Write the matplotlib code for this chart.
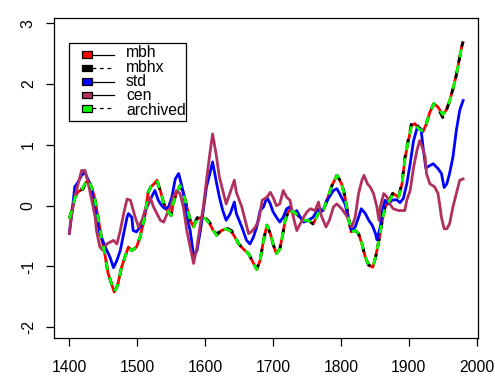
import matplotlib
matplotlib.use('Agg')
import matplotlib.pyplot as plt
from matplotlib.patches import Rectangle
from matplotlib.lines import Line2D

plt.rcParams['font.family'] = ['Liberation Sans', 'DejaVu Sans']

# ---------------- data ----------------
mbh_years = [1400, 1404, 1408, 1412, 1416, 1420, 1424, 1428, 1433, 1438, 1443, 1448, 1452,
             1457, 1462, 1466, 1471, 1477, 1482, 1487, 1492, 1499, 1504, 1511, 1516, 1520,
             1524, 1529, 1534, 1539, 1544, 1550, 1553, 1558, 1563, 1568, 1573, 1578, 1583,
             1588, 1594, 1600, 1607, 1612, 1617, 1624, 1631, 1639, 1644, 1649, 1656, 1664,
             1669, 1676, 1681, 1686, 1691, 1696, 1700, 1705, 1710, 1714, 1718, 1723, 1730,
             1737, 1745, 1752, 1759, 1764, 1769, 1774, 1781, 1786, 1794, 1801, 1806, 1811,
             1815, 1821, 1826, 1831, 1836, 1841, 1847, 1851, 1856, 1861, 1865, 1872, 1877,
             1885, 1890, 1894, 1899, 1904, 1909, 1914, 1921, 1926, 1931, 1937, 1943, 1950,
             1955, 1960, 1965, 1970, 1974, 1978, 1980]
mbh_vals = [-0.21, -0.06, 0.12, 0.22, 0.25, 0.30, 0.38, 0.42, 0.30, 0.09, -0.24, -0.57, -0.78,
            -1.11, -1.28, -1.42, -1.31, -1.01, -0.84, -0.68, -0.74, -0.68, -0.52, -0.19, 0.22, 0.31,
            0.35, 0.42, 0.25, 0.04, -0.08, -0.16, 0.04, 0.22, 0.33, 0.22, -0.02, -0.24, -0.35,
            -0.22, -0.19, -0.21, -0.30, -0.41, -0.49, -0.41, -0.38, -0.43, -0.52, -0.62, -0.71, -0.79,
            -0.90, -1.05, -0.90, -0.57, -0.32, -0.46, -0.63, -0.79, -0.71, -0.49, -0.24, -0.08, -0.10,
            -0.16, -0.24, -0.24, -0.30, -0.19, -0.05, -0.08, 0.14, 0.31, 0.50, 0.36, 0.14, -0.19,
            -0.43, -0.41, -0.46, -0.63, -0.85, -0.98, -1.01, -0.85, -0.57, -0.24, -0.02, 0.09, 0.20,
            0.14, 0.36, 0.75, 1.05, 1.32, 1.35, 1.27, 1.22, 1.35, 1.54, 1.68, 1.62, 1.50,
            1.57, 1.72, 1.92, 2.15, 2.39, 2.62, 2.70]
mbhx_vals = [-0.21, -0.06, 0.13, 0.24, 0.27, 0.27, 0.37, 0.42, 0.30, 0.09, -0.24, -0.57, -0.78,
             -1.11, -1.28, -1.42, -1.31, -1.01, -0.84, -0.68, -0.74, -0.68, -0.52, -0.19, 0.22, 0.31,
             0.35, 0.40, 0.25, 0.04, -0.08, -0.16, 0.04, 0.22, 0.33, 0.22, -0.02, -0.24, -0.33,
             -0.20, -0.17, -0.19, -0.28, -0.39, -0.47, -0.40, -0.36, -0.41, -0.50, -0.62, -0.71, -0.79,
             -0.90, -1.04, -0.90, -0.57, -0.32, -0.46, -0.63, -0.79, -0.71, -0.49, -0.24, -0.08, -0.10,
             -0.16, -0.24, -0.24, -0.30, -0.19, -0.05, -0.08, 0.14, 0.31, 0.50, 0.38, 0.16, -0.19,
             -0.43, -0.41, -0.46, -0.63, -0.85, -0.98, -1.01, -0.85, -0.57, -0.24, -0.02, 0.11, 0.22,
             0.16, 0.38, 0.78, 1.08, 1.36, 1.38, 1.30, 1.22, 1.35, 1.54, 1.68, 1.60, 1.45,
             1.55, 1.72, 1.92, 2.15, 2.39, 2.62, 2.70]
archived_vals = [-0.21, -0.06, 0.12, 0.20, 0.22, 0.30, 0.38, 0.43, 0.30, 0.09, -0.24, -0.57, -0.78,
                 -1.11, -1.28, -1.42, -1.31, -1.01, -0.84, -0.68, -0.74, -0.68, -0.52, -0.19, 0.22, 0.31,
                 0.35, 0.42, 0.25, 0.04, -0.08, -0.16, 0.04, 0.22, 0.33, 0.22, -0.02, -0.24, -0.35,
                 -0.22, -0.19, -0.21, -0.30, -0.41, -0.49, -0.41, -0.38, -0.43, -0.52, -0.62, -0.71, -0.79,
                 -0.90, -1.05, -0.90, -0.57, -0.32, -0.46, -0.63, -0.79, -0.71, -0.49, -0.24, -0.08, -0.10,
                 -0.16, -0.24, -0.24, -0.30, -0.19, -0.05, -0.08, 0.14, 0.31, 0.50, 0.36, 0.14, -0.19,
                 -0.43, -0.41, -0.46, -0.63, -0.85, -0.98, -1.01, -0.85, -0.57, -0.24, -0.02, 0.09, 0.20,
                 0.14, 0.36, 0.75, 1.05, 1.32, 1.35, 1.27, 1.22, 1.35, 1.54, 1.68, 1.62, 1.50,
                 1.57, 1.72, 1.92, 2.15, 2.39, 2.62, 2.70]

std_years = [1400, 1404, 1408, 1413, 1418, 1423, 1430, 1435, 1440, 1445, 1453, 1460, 1465,
             1470, 1475, 1480, 1485, 1487, 1492, 1494, 1499, 1507, 1512, 1521, 1526, 1531,
             1536, 1541, 1546, 1551, 1556, 1561, 1566, 1570, 1573, 1578, 1583, 1588, 1593,
             1597, 1602, 1607, 1611, 1616, 1621, 1626, 1631, 1637, 1643, 1646, 1654, 1661,
             1666, 1671, 1676, 1681, 1686, 1691, 1696, 1700, 1705, 1710, 1715, 1720, 1725,
             1730, 1735, 1740, 1745, 1752, 1759, 1766, 1771, 1776, 1781, 1789, 1794, 1798,
             1806, 1811, 1816, 1821, 1826, 1830, 1836, 1841, 1846, 1851, 1853, 1858, 1861,
             1865, 1870, 1875, 1882, 1887, 1892, 1897, 1902, 1907, 1912, 1918, 1921, 1925,
             1931, 1936, 1943, 1948, 1952, 1956, 1960, 1965, 1970, 1975, 1980]
std_vals = [-0.45, -0.10, 0.31, 0.39, 0.50, 0.55, 0.36, 0.14, -0.19, -0.46, -0.68, -0.85, -1.02,
            -0.90, -0.74, -0.46, -0.19, -0.13, -0.19, -0.41, -0.43, -0.30, -0.08, 0.14, 0.25, 0.09,
            0.00, -0.05, -0.02, 0.14, 0.44, 0.53, 0.31, 0.09, -0.19, -0.41, -0.82, -0.74, -0.41,
            -0.10, 0.31, 0.53, 0.72, 0.42, 0.14, -0.08, -0.24, -0.13, 0.06, -0.13, -0.35, -0.57,
            -0.63, -0.52, -0.35, -0.08, -0.02, 0.14, 0.03, -0.10, -0.19, -0.27, -0.19, -0.05, -0.02,
            -0.13, -0.08, -0.19, -0.27, -0.24, -0.19, -0.06, -0.10, -0.02, 0.11, 0.25, 0.28, 0.20,
            0.03, -0.21, -0.41, -0.35, -0.19, -0.05, -0.13, -0.24, -0.32, -0.46, -0.56, -0.35, -0.08,
            0.09, 0.03, 0.09, 0.10, 0.05, 0.12, 0.36, 0.69, 1.07, 1.27, 1.26, 0.96, 0.62,
            0.66, 0.69, 0.61, 0.53, 0.30, 0.36, 0.53, 0.80, 1.24, 1.57, 1.73]

cen_years = [1400, 1403, 1408, 1413, 1418, 1423, 1428, 1433, 1438, 1440, 1445, 1450, 1455,
             1460, 1465, 1470, 1475, 1480, 1485, 1490, 1497, 1502, 1507, 1512, 1516, 1519,
             1524, 1529, 1534, 1539, 1544, 1549, 1553, 1558, 1563, 1568, 1573, 1578, 1583,
             1588, 1593, 1597, 1602, 1607, 1611, 1616, 1621, 1626, 1631, 1637, 1643, 1646,
             1654, 1659, 1664, 1669, 1674, 1679, 1684, 1691, 1696, 1700, 1705, 1710, 1715,
             1720, 1725, 1730, 1735, 1740, 1745, 1750, 1755, 1762, 1767, 1771, 1778, 1783,
             1789, 1794, 1801, 1808, 1816, 1821, 1826, 1831, 1834, 1839, 1843, 1848, 1853,
             1856, 1858, 1863, 1868, 1872, 1877, 1885, 1894, 1897, 1902, 1907, 1912, 1916,
             1920, 1924, 1926, 1931, 1938, 1943, 1946, 1948, 1952, 1956, 1960, 1965, 1970,
             1975, 1980]
cen_vals = [-0.46, -0.19, 0.14, 0.36, 0.58, 0.58, 0.36, 0.09, -0.19, -0.41, -0.68, -0.74, -0.63,
            -0.60, -0.57, -0.63, -0.41, -0.13, 0.11, 0.09, -0.19, -0.35, -0.24, -0.05, 0.03, 0.14,
            -0.02, -0.13, -0.24, -0.27, -0.13, -0.02, 0.14, 0.25, 0.20, -0.02, -0.41, -0.68, -0.95,
            -0.68, -0.30, -0.05, 0.42, 0.86, 1.18, 0.86, 0.47, 0.25, 0.03, 0.22, 0.42, 0.22,
            -0.02, -0.24, -0.46, -0.42, -0.35, -0.24, 0.09, 0.14, 0.22, 0.14, 0.00, 0.03, 0.25,
            0.14, 0.09, -0.19, -0.41, -0.30, -0.19, -0.10, -0.05, -0.08, 0.06, -0.16, -0.35, -0.24,
            -0.02, 0.03, -0.05, -0.16, -0.35, -0.19, 0.20, 0.42, 0.50, 0.36, 0.31, 0.20, -0.02,
            -0.24, -0.02, 0.20, 0.14, 0.03, -0.05, -0.08, -0.08, 0.09, 0.25, 0.63, 0.91, 1.07,
            0.96, 0.80, 0.53, 0.36, 0.31, 0.20, -0.02, -0.19, -0.38, -0.38, -0.30, -0.02, 0.20,
            0.42, 0.44]

series_names = ['mbh', 'mbhx', 'std', 'cen', 'archived']
series_colors = ['#FF0000', '#000000', '#0000FF', '#B03060', '#00FF00']
x_ticks = [1400, 1500, 1600, 1700, 1800, 1900, 2000]
y_ticks = [-2, -1, 0, 1, 2, 3]

# ---------------- figure ----------------
W, H = 495, 392
fig = plt.figure(figsize=(W / 100, H / 100), dpi=100)
ax = fig.add_axes([54 / W, 1 - 338 / H, 424 / W, 320 / H])

dash = (2.9, 2.9)
ax.plot(mbh_years, mbh_vals, color=series_colors[0], lw=2.0, solid_capstyle='butt')
ax.plot(mbh_years, mbhx_vals, color=series_colors[1], lw=2.0, dashes=dash)
ax.plot(std_years, std_vals, color=series_colors[2], lw=2.0)
ax.plot(cen_years, cen_vals, color=series_colors[3], lw=2.0)
ax.plot(mbh_years, archived_vals, color=series_colors[4], lw=2.0, dashes=dash)

ax.set_xlim(1377.4, 2001.9)
ax.set_ylim(-2.176, 3.087)
ax.set_xticks(x_ticks)
ax.set_yticks(y_ticks)
ax.set_xticklabels([str(v) for v in x_ticks])
ax.set_yticklabels([str(v) for v in y_ticks])
for s in ax.spines.values():
    s.set_linewidth(0.9)
ax.tick_params(axis='both', direction='out', length=5.6, width=0.9, labelsize=11.3, color='black')
ax.tick_params(axis='x', pad=10)
ax.tick_params(axis='y', pad=7.5, labelrotation=90)
for lab in ax.get_yticklabels():
    lab.set_va('center')

# ---------------- legend (drawn in figure pixels) ----------------
def fx(px):
    return px / W

def fy(py):
    return 1 - py / H

fig.add_artist(Rectangle((fx(69), fy(121)), fx(186) - fx(69), fy(43) - fy(121),
                         transform=fig.transFigure, fill=False, edgecolor='black', lw=0.9))
row_y = [54.7, 68.1, 81.5, 94.9, 108.3]
line_styles = ['-', (0, (3, 3)), '-', '-', (0, (3, 3))]
for name, col, ls, ry in zip(series_names, series_colors, line_styles, row_y):
    fig.add_artist(Line2D([fx(92), fx(114)], [fy(ry), fy(ry)], transform=fig.transFigure,
                          color='black', lw=0.9, linestyle=ls))
    fig.add_artist(Rectangle((fx(82), fy(ry + 3.3)), fx(92) - fx(82), fy(ry - 3.3) - fy(ry + 3.3),
                             transform=fig.transFigure, facecolor=col, edgecolor='black', lw=0.9))
# all legend labels in one multi-line text block (rows 13.4 px apart)
fig.text(fx(126), fy(row_y[2]), '\n'.join(series_names), fontsize=11.3,
         va='center', ha='left', linespacing=0.95)

fig.savefig('out.png', dpi=100)
